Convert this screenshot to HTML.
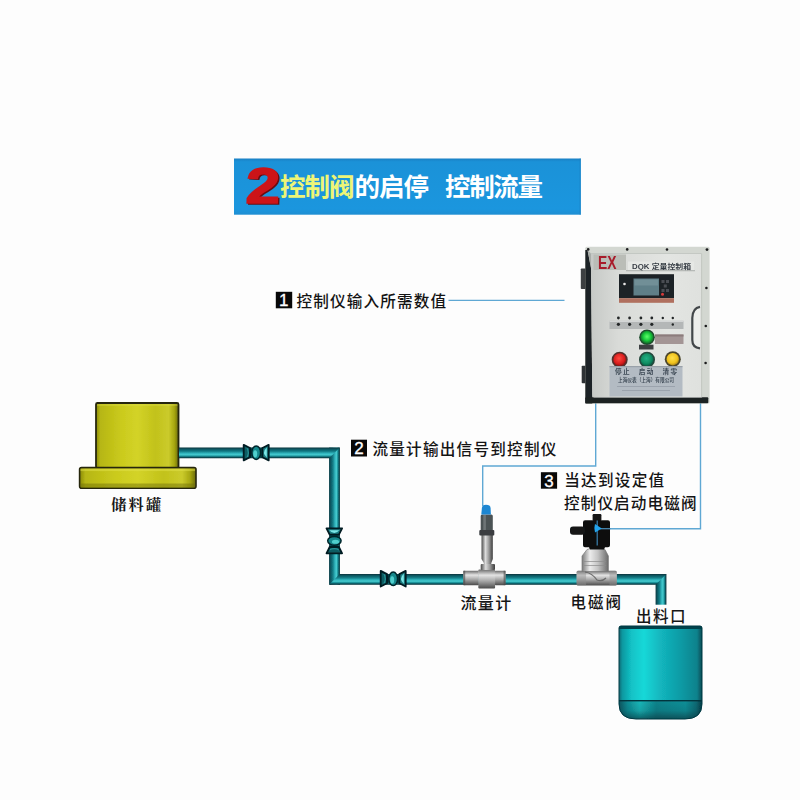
<!DOCTYPE html>
<html lang="zh-CN">
<head>
<meta charset="utf-8">
<title>控制阀的启停 控制流量</title>
<style>
html,body{margin:0;padding:0;background:#fdfdfd;}
body{width:800px;height:800px;overflow:hidden;position:relative;font-family:"Liberation Sans","Noto Sans CJK SC",sans-serif;}
svg{position:absolute;left:0;top:0;display:block;}
text{font-family:"Liberation Sans","Noto Sans CJK SC",sans-serif;}
</style>
</head>
<body>
<svg width="800" height="800" viewBox="0 0 800 800">
<defs>
  <linearGradient id="pipeH" x1="0" y1="0" x2="0" y2="1">
    <stop offset="0" stop-color="#05323a"/>
    <stop offset="0.12" stop-color="#0a525c"/>
    <stop offset="0.35" stop-color="#137c86"/>
    <stop offset="0.55" stop-color="#32b6be"/>
    <stop offset="0.68" stop-color="#46cace"/>
    <stop offset="0.8" stop-color="#1c929a"/>
    <stop offset="0.92" stop-color="#0a4c56"/>
    <stop offset="1" stop-color="#042a32"/>
  </linearGradient>
  <linearGradient id="pipeV" x1="0" y1="0" x2="1" y2="0">
    <stop offset="0" stop-color="#05323a"/>
    <stop offset="0.12" stop-color="#0a525c"/>
    <stop offset="0.35" stop-color="#137c86"/>
    <stop offset="0.55" stop-color="#32b6be"/>
    <stop offset="0.68" stop-color="#46cace"/>
    <stop offset="0.8" stop-color="#1c929a"/>
    <stop offset="0.92" stop-color="#0a4c56"/>
    <stop offset="1" stop-color="#042a32"/>
  </linearGradient>
  <linearGradient id="tankY" x1="0" y1="0" x2="1" y2="0">
    <stop offset="0" stop-color="#8a8a0c"/>
    <stop offset="0.05" stop-color="#b6b614"/>
    <stop offset="0.3" stop-color="#caca1c"/>
    <stop offset="0.5" stop-color="#d3d328"/>
    <stop offset="0.72" stop-color="#c2c21a"/>
    <stop offset="0.88" stop-color="#cbcb2c"/>
    <stop offset="0.95" stop-color="#a6a610"/>
    <stop offset="1" stop-color="#6a6a08"/>
  </linearGradient>
  <linearGradient id="tankG" x1="0" y1="0" x2="1" y2="0">
    <stop offset="0" stop-color="#0a6a74"/>
    <stop offset="0.04" stop-color="#0e98a0"/>
    <stop offset="0.15" stop-color="#12c2c6"/>
    <stop offset="0.3" stop-color="#14d8d8"/>
    <stop offset="0.5" stop-color="#12b6be"/>
    <stop offset="0.75" stop-color="#0f9aa4"/>
    <stop offset="0.94" stop-color="#0c828c"/>
    <stop offset="1" stop-color="#064a54"/>
  </linearGradient>
  <linearGradient id="tankGb" x1="0" y1="0" x2="1" y2="0">
    <stop offset="0" stop-color="#08545e"/>
    <stop offset="0.1" stop-color="#0e8a92"/>
    <stop offset="0.25" stop-color="#1ab8ba"/>
    <stop offset="0.45" stop-color="#0e848c"/>
    <stop offset="0.8" stop-color="#109098"/>
    <stop offset="0.93" stop-color="#0b6a74"/>
    <stop offset="1" stop-color="#053c46"/>
  </linearGradient>
  <linearGradient id="steelH" x1="0" y1="0" x2="0" y2="1">
    <stop offset="0" stop-color="#6a6a6a"/>
    <stop offset="0.3" stop-color="#e4e4e4"/>
    <stop offset="0.6" stop-color="#a8a8a8"/>
    <stop offset="1" stop-color="#4a4a4a"/>
  </linearGradient>
  <linearGradient id="steelV" x1="0" y1="0" x2="1" y2="0">
    <stop offset="0" stop-color="#4a4a4a"/>
    <stop offset="0.35" stop-color="#dcdcdc"/>
    <stop offset="0.65" stop-color="#9a9a9a"/>
    <stop offset="1" stop-color="#3c3c3c"/>
  </linearGradient>
  <linearGradient id="steelL" x1="0" y1="0" x2="1" y2="0">
    <stop offset="0" stop-color="#7a7a7a"/>
    <stop offset="0.3" stop-color="#ececec"/>
    <stop offset="0.6" stop-color="#c4c4c4"/>
    <stop offset="1" stop-color="#6a6a6a"/>
  </linearGradient>
  <linearGradient id="banner" x1="0" y1="0" x2="0" y2="1">
    <stop offset="0" stop-color="#1a80c4"/>
    <stop offset="0.06" stop-color="#1b92d8"/>
    <stop offset="0.9" stop-color="#1b96de"/>
    <stop offset="1" stop-color="#1f8ed2"/>
  </linearGradient>
  <linearGradient id="darkDown" x1="0" y1="0" x2="0" y2="1">
    <stop offset="0" stop-color="#03323a" stop-opacity="0"/>
    <stop offset="0.55" stop-color="#03323a" stop-opacity="0.150"/>
    <stop offset="1" stop-color="#03323a" stop-opacity="0.650"/>
  </linearGradient>
  <radialGradient id="lampG" cx="0.5" cy="0.45" r="0.55">
    <stop offset="0" stop-color="#5cff6a"/>
    <stop offset="0.55" stop-color="#18c83a"/>
    <stop offset="1" stop-color="#155a28"/>
  </radialGradient>
  <filter id="soft" x="-5%" y="-5%" width="110%" height="110%"><feGaussianBlur stdDeviation="0.450"/></filter>
</defs>

<!-- banner -->
<g id="banner-g">
  <rect x="234" y="158.500" width="346.800" height="56.200" fill="url(#banner)"/>
  <rect x="579.600" y="158.500" width="1.200" height="56.200" fill="#1a82c6" opacity="0.700"/>
  <g transform="translate(245.300,203) skewX(-2) scale(1.230,1)">
    <text x="1.200" y="1" font-size="50" font-weight="700" fill="#6a0c10" stroke="#6a0c10" stroke-width="1.400" font-family="'Liberation Sans',sans-serif" >2</text>
    <text x="0" y="0" font-size="50" font-weight="700" fill="#cc1418" stroke="#cc1418" stroke-width="1.600" font-family="'Liberation Sans',sans-serif" >2</text>
  </g>
  <text x="280" y="196" font-size="25.500" font-weight="700" fill="#eef576" textLength="74.500" lengthAdjust="spacing">控制阀</text>
  <text x="354.500" y="196" font-size="25.500" font-weight="700" fill="#ffffff" textLength="74.500" lengthAdjust="spacing">的启停</text>
  <text x="445" y="196" font-size="25.500" font-weight="700" fill="#ffffff" textLength="98" lengthAdjust="spacing">控制流量</text>
</g>

<!-- signal lines -->
<g id="lines" fill="none" stroke="#5fa8d4" stroke-width="1.400">
  <path d="M448.500 300.400 H564.500"/>
  <path d="M595.700 403 V466 H482.700 V506"/>
  <path d="M700.500 403 V528.700 H600"/>
</g>

<!-- step labels -->
<g id="labels" fill="#141414" font-size="15.600" font-weight="500">
  <rect x="275.800" y="291.800" width="16.400" height="16.500" fill="#080808"/>
  <text x="283.700" y="306.200" font-size="17" font-weight="400" fill="#ffffff" stroke="#ffffff" stroke-width="0.300" text-anchor="middle" font-family="'Liberation Sans',sans-serif">1</text>
  <text x="296.600" y="307.200" textLength="149.500" lengthAdjust="spacing">控制仪输入所需数值</text>

  <rect x="351" y="439.700" width="16" height="16.800" fill="#080808"/>
  <text x="359" y="454.400" font-size="17" font-weight="400" fill="#ffffff" stroke="#ffffff" stroke-width="0.300" text-anchor="middle" font-family="'Liberation Sans',sans-serif">2</text>
  <text x="372.400" y="455" textLength="184" lengthAdjust="spacing">流量计输出信号到控制仪</text>

  <rect x="540.900" y="472.200" width="16.200" height="16.500" fill="#080808"/>
  <text x="549" y="486.600" font-size="17" font-weight="400" fill="#ffffff" stroke="#ffffff" stroke-width="0.300" text-anchor="middle" font-family="'Liberation Sans',sans-serif">3</text>
  <text x="564.200" y="485.800" textLength="100" lengthAdjust="spacing">当达到设定值</text>
  <text x="564" y="509.400" textLength="132.500" lengthAdjust="spacing">控制仪启动电磁阀</text>
</g>

<!-- component labels -->
<g id="names" fill="#161616" font-size="15.800" font-weight="500">
  <text x="111.300" y="510" font-size="15.200" font-weight="700" stroke="none" style="font-family:'Liberation Serif','Noto Serif CJK SC',serif" textLength="49.800" lengthAdjust="spacing">储料罐</text>
  <text x="460.400" y="608.600" font-size="16" textLength="50.800" lengthAdjust="spacing">流量计</text>
  <text x="570.600" y="608.200" font-size="15.500" textLength="50.500" lengthAdjust="spacing">电磁阀</text>
  <text x="636" y="622.200" font-size="15.500" textLength="49.500" lengthAdjust="spacing">出料口</text>
</g>

<!-- storage tank -->
<g id="storage" filter="url(#soft)">
  <rect x="96" y="403" width="82.500" height="65" rx="1.500" fill="url(#tankY)" stroke="#28280a" stroke-width="1.800"/>
  <rect x="97" y="404" width="80.500" height="2" fill="#e0e04a" opacity="0.350"/>
  <rect x="79.600" y="467.600" width="116.400" height="20.600" rx="2" fill="url(#tankY)" stroke="#28280a" stroke-width="1.600"/>
  <rect x="80.500" y="468.600" width="114.600" height="2.500" fill="#e2e24c" opacity="0.500"/>
  <rect x="80.500" y="483.500" width="114.600" height="4" fill="#6a6a08" opacity="0.450"/>
</g>

<!-- pipes -->
<g id="pipes" filter="url(#soft)">
  <rect x="329.100" y="447.600" width="10.800" height="137.100" fill="url(#pipeV)"/>
  <rect x="655.600" y="574" width="10.800" height="30.700" fill="url(#pipeV)"/>
  <path d="M179 447.600 H339.900 L329.100 458.200 H179 Z" fill="url(#pipeH)"/>
  <path d="M339.900 574 H666.400 L655.600 584.700 H329.100 Z" fill="url(#pipeH)"/>
</g>

<!-- hand valves -->
<g id="valves" filter="url(#soft)">
  <g transform="translate(256.200,452.600)">
    <rect x="-7" y="-4.200" width="14" height="8.400" fill="#0a4850"/>
    <path d="M-12.500 -7.800 L-6.200 -4.600 L-6.200 4.600 L-12.500 7.800 Z" fill="#0d5c62" stroke="#021a20" stroke-width="1.800" stroke-linejoin="round"/>
    <path d="M-9.800 -4.800 Q-7.200 0 -9.800 4.800 L-8.200 4.200 Q-6.400 0 -8.200 -4.200 Z" fill="#2a9a9c" opacity="0.900"/>
    <path d="M12.500 -7.800 L6.200 -4.600 L6.200 4.600 L12.500 7.800 Z" fill="#1a7c82" stroke="#021a20" stroke-width="1.800" stroke-linejoin="round"/>
    <path d="M10.600 -5 L10.600 5 Q5 0 10.600 -5 Z" fill="#7be6e6"/>
    <ellipse cx="0" cy="0.100" rx="4.400" ry="6.700" fill="#16888c" stroke="#02262c" stroke-width="1.500"/>
    <ellipse cx="-1" cy="1.200" rx="2" ry="3.600" fill="#5cdcd8" opacity="0.850"/>
  
  </g>
  <g transform="translate(334.300,540.800) rotate(-90)">
    <rect x="-7" y="-4.200" width="14" height="8.400" fill="#0a4850"/>
    <path d="M-12.500 -7.800 L-6.200 -4.600 L-6.200 4.600 L-12.500 7.800 Z" fill="#0d5c62" stroke="#021a20" stroke-width="1.800" stroke-linejoin="round"/>
    <path d="M-9.800 -4.800 Q-7.200 0 -9.800 4.800 L-8.200 4.200 Q-6.400 0 -8.200 -4.200 Z" fill="#2a9a9c" opacity="0.900"/>
    <path d="M12.500 -7.800 L6.200 -4.600 L6.200 4.600 L12.500 7.800 Z" fill="#1a7c82" stroke="#021a20" stroke-width="1.800" stroke-linejoin="round"/>
    <path d="M10.600 -5 L10.600 5 Q5 0 10.600 -5 Z" fill="#7be6e6"/>
    <ellipse cx="0" cy="0.100" rx="4.400" ry="6.700" fill="#16888c" stroke="#02262c" stroke-width="1.500"/>
    <ellipse cx="-1" cy="1.200" rx="2" ry="3.600" fill="#5cdcd8" opacity="0.850"/>
  
  </g>
  <g transform="translate(393.200,578.700)">
    <rect x="-7" y="-4.200" width="14" height="8.400" fill="#0a4850"/>
    <path d="M-12.500 -7.800 L-6.200 -4.600 L-6.200 4.600 L-12.500 7.800 Z" fill="#0d5c62" stroke="#021a20" stroke-width="1.800" stroke-linejoin="round"/>
    <path d="M-9.800 -4.800 Q-7.200 0 -9.800 4.800 L-8.200 4.200 Q-6.400 0 -8.200 -4.200 Z" fill="#2a9a9c" opacity="0.900"/>
    <path d="M12.500 -7.800 L6.200 -4.600 L6.200 4.600 L12.500 7.800 Z" fill="#1a7c82" stroke="#021a20" stroke-width="1.800" stroke-linejoin="round"/>
    <path d="M10.600 -5 L10.600 5 Q5 0 10.600 -5 Z" fill="#7be6e6"/>
    <ellipse cx="0" cy="0.100" rx="4.400" ry="6.700" fill="#16888c" stroke="#02262c" stroke-width="1.500"/>
    <ellipse cx="-1" cy="1.200" rx="2" ry="3.600" fill="#5cdcd8" opacity="0.850"/>
  
  </g>
</g>

<!-- flow meter -->
<g id="flowmeter" filter="url(#soft)">
  <rect x="463.200" y="570.700" width="15.600" height="14.500" rx="1" fill="url(#steelH)"/>
  <rect x="494.800" y="570.700" width="10.800" height="14.500" rx="1" fill="url(#steelH)"/>
  <rect x="478.300" y="569.400" width="16.800" height="19.200" rx="1" fill="url(#steelH)"/>
  <rect x="463.200" y="570.700" width="2" height="14.500" fill="#4a4a4a" opacity="0.600"/>
  <rect x="503.600" y="570.700" width="2" height="14.500" fill="#4a4a4a" opacity="0.600"/>
  <path d="M481.500 535 H492.800 V559 L491.300 563 V566 H483.800 V563 L481.500 559 Z" fill="url(#steelV)"/>
  <rect x="480.700" y="564" width="14.300" height="6" rx="1" fill="url(#steelV)"/>
  <rect x="480.700" y="514.500" width="12.100" height="17.500" rx="1.500" fill="#4c5254"/>
  <rect x="483.300" y="515" width="2.600" height="16.500" fill="#7d8486" opacity="0.700"/>
  <rect x="479.300" y="530" width="15" height="5.500" rx="1" fill="#3a3e40"/>
  <path d="M481.300 514.600 L481.900 508 Q482.200 504.800 486 504.800 Q490.300 504.800 490.600 508 L490.900 514.600 Z" fill="#1c86d2"/>
</g>

<!-- solenoid valve -->
<g id="solenoid" filter="url(#soft)">
  <rect x="576.600" y="570.800" width="40.200" height="14.800" rx="1.500" fill="url(#steelH)"/>
  <rect x="576.600" y="570.800" width="9.500" height="14.800" rx="1" fill="#8e8e8e" opacity="0.450"/>
  <rect x="609.500" y="570.800" width="7.300" height="14.800" rx="1" fill="#8e8e8e" opacity="0.450"/>
  <path d="M587 549.500 Q596 546 605 549.500 L608.400 556 V571.500 H582 V556 Z" fill="url(#steelL)" stroke="#7a7a7a" stroke-width="0.700"/>
  <path d="M585 572 Q592 573 597 580 Q602 582 606 578" fill="none" stroke="#5a5a5a" stroke-width="1.200" opacity="0.800"/>
  <rect x="584" y="561" width="22" height="1" fill="#8a8a8a" opacity="0.700"/>
  <rect x="584" y="565" width="22" height="1" fill="#8a8a8a" opacity="0.700"/>
  <rect x="592.600" y="514" width="8.800" height="7" rx="1.200" fill="#121314"/>
  <path d="M585 520.200 H608 Q610 520.200 610 522.200 V545.200 Q610 547.200 608 547.200 H605 L604 549.500 H590 L589 547.200 H585 Q583 547.200 583 545.200 V522.200 Q583 520.200 585 520.200 Z" fill="#0d0f10"/>
  <rect x="570" y="526.400" width="15" height="8.400" rx="3" fill="#121416"/>
  <rect x="596.600" y="520.500" width="1.200" height="25" fill="#3a7fae"/>
  <rect x="600" y="528.100" width="10.500" height="1.200" fill="#4f8fb8"/>
  <path d="M595 524 L601.800 528.400 L595 532.600 Q593.600 528.400 595 524 Z" fill="#22a4ee"/>
</g>

<!-- receiving tank -->
<g id="receiver" filter="url(#soft)">
  <path d="M621 626 H700 Q702 626 702 628 V701 H619 V628 Q619 626 621 626 Z" fill="url(#tankG)"/>
  <path d="M619 700.500 H702 V704 Q702 719 685 719 H636 Q619 719 619 704 Z" fill="url(#tankGb)"/>
  <path d="M619 700.500 H702 V704 Q702 719 685 719 H636 Q619 719 619 704 Z" fill="url(#darkDown)"/>
  <path d="M621 626 H700 Q702 626 702 628 V629 H619 V628 Q619 626 621 626 Z" fill="#06424c"/>
  <rect x="619" y="700" width="83" height="1.400" fill="#05343e"/>
  <path d="M621 626 H700 Q702 626 702 628 V704 Q702 719 685 719 H636 Q619 719 619 704 V628 Q619 626 621 626 Z" fill="none" stroke="#053842" stroke-width="1"/>
</g>

<!-- control box -->
<defs>
  <linearGradient id="panelG" x1="0" y1="0" x2="1" y2="0">
    <stop offset="0" stop-color="#c6c9c6"/>
    <stop offset="0.25" stop-color="#d9dbd8"/>
    <stop offset="0.7" stop-color="#e3e5e2"/>
    <stop offset="1" stop-color="#dfe1de"/>
  </linearGradient>
  <radialGradient id="btnR" cx="0.45" cy="0.4" r="0.6"><stop offset="0" stop-color="#ff4a40"/><stop offset="0.7" stop-color="#d81c1c"/><stop offset="1" stop-color="#8a1414"/></radialGradient>
  <radialGradient id="btnG" cx="0.45" cy="0.4" r="0.6"><stop offset="0" stop-color="#22b084"/><stop offset="0.7" stop-color="#108a60"/><stop offset="1" stop-color="#0c5a44"/></radialGradient>
  <radialGradient id="btnY" cx="0.45" cy="0.4" r="0.6"><stop offset="0" stop-color="#ffe04a"/><stop offset="0.7" stop-color="#f0c21c"/><stop offset="1" stop-color="#a8841a"/></radialGradient>
</defs>
<g id="ctrlbox" filter="url(#soft)">
  <rect x="580.800" y="268.500" width="5.200" height="20.500" rx="0.800" fill="#3c4042"/>
  <rect x="581.700" y="365.800" width="4.600" height="17.500" rx="0.800" fill="#2e3234"/>
  <rect x="585.300" y="246.800" width="124.300" height="156.700" rx="1.500" fill="#d3d7d1"/>
  <path d="M585.300 250 L587.500 250 L591 268 L592.300 396 V403.500 H585.300 Z" fill="#1f2325"/>
  <rect x="585.300" y="397.200" width="123" height="6" rx="1" fill="#1d2123"/>
  <path d="M591 253.500 H701.500 V397.500 H594.300 Q592.300 397.500 592.300 395.500 L591 268 Z" fill="url(#panelG)"/>
  <path d="M587.500 250 L591 253.500 V268 Z" fill="#a9ada9"/>
  <rect x="701.300" y="253.500" width="0.800" height="144" fill="#bcc0bb"/>
  <rect x="591" y="253" width="110.500" height="0.800" fill="#bfc3be"/>
  <!-- EX plate -->
  <rect x="593.500" y="254.500" width="32.500" height="15.500" fill="#babdb7"/>
  <text x="598" y="268.600" font-size="17.500" font-weight="700" fill="#a81c2c" font-family="'Liberation Sans',sans-serif" textLength="18.500" lengthAdjust="spacingAndGlyphs">EX</text>
  <rect x="628" y="261.500" width="66" height="8.800" fill="#e6e8e5"/>
  <text x="632" y="268.600" font-size="6.800" font-weight="700" fill="#363c44" textLength="59" lengthAdjust="spacingAndGlyphs">DQK 定量控制箱</text>
  <rect x="626" y="270.300" width="69" height="0.900" fill="#a4a8a6"/>
  <!-- display -->
  <rect x="619" y="274.200" width="55" height="24" fill="#1f2327"/>
  <rect x="633.500" y="278.500" width="25.500" height="17" fill="#5f7f88"/>
  <rect x="634.500" y="279.500" width="23.500" height="6" fill="#7d99a2" opacity="0.600"/>
  <circle cx="624.500" cy="284" r="1.300" fill="#e8e8e8"/>
  <g fill="#4a4e52"><rect x="661.500" y="280" width="3" height="3"/><rect x="666" y="280" width="3" height="3"/><rect x="663.800" y="284.500" width="3" height="3"/><rect x="661.500" y="289" width="3" height="3"/><rect x="666" y="289" width="3" height="3"/></g>
  <circle cx="662.500" cy="294.200" r="1.500" fill="#d63a3a"/>
  <rect x="619" y="298.200" width="55" height="4.600" fill="#b0705e"/>
  <!-- handle -->
  <path d="M700 306.800 Q692.500 308 692.300 318 V340 Q692.300 347.500 700 348.400" fill="#eceeeb" stroke="#43474a" stroke-width="2.200"/>
  <!-- terminal strip -->
  <rect x="609.500" y="320.800" width="74" height="8.200" fill="#b4b7b7"/>
  <rect x="609.500" y="320.800" width="74" height="1.200" fill="#d4d6d6"/>
  <g fill="#232527">
    <circle cx="618.400" cy="318" r="1.400"/><circle cx="629.600" cy="318" r="1.400"/><circle cx="640.900" cy="318" r="1.400"/><circle cx="651.800" cy="318" r="1.400"/><circle cx="662.800" cy="318" r="1.200"/><circle cx="672.800" cy="318" r="1.200"/>
    <circle cx="618.400" cy="324.300" r="1.600"/><circle cx="629.600" cy="324.300" r="1.600"/><circle cx="640.900" cy="324.300" r="1.600"/><circle cx="651.800" cy="324.300" r="1.600"/><circle cx="672.800" cy="324.500" r="1.200"/>
  </g>
  <!-- lamp and strip -->
  <rect x="655" y="334.500" width="28.500" height="9.500" fill="#a39595"/>
  <rect x="655" y="334.500" width="28.500" height="2" fill="#8c7c7c"/>
  <circle cx="647" cy="337.300" r="7.800" fill="#1d4a2c"/>
  <circle cx="647" cy="337.300" r="6.600" fill="url(#lampG)"/>
  <rect x="639" y="344.700" width="14.500" height="4.800" fill="#3c4042"/>
  <!-- buttons -->
  <circle cx="619.700" cy="359.700" r="8" fill="#51302e"/>
  <circle cx="619.700" cy="359.700" r="6.400" fill="url(#btnR)"/>
  <circle cx="647" cy="359.700" r="8" fill="#24493e"/>
  <circle cx="647" cy="359.700" r="6.400" fill="url(#btnG)"/>
  <circle cx="672.800" cy="359.200" r="8" fill="#4c462c"/>
  <circle cx="672.800" cy="359.200" r="6.200" fill="url(#btnY)"/>
  <!-- name plate -->
  <rect x="609.500" y="366" width="73" height="30.500" fill="#b3bbc3"/>
  <rect x="609.500" y="366" width="73" height="1.200" fill="#8e969e" opacity="0.700"/>
  <text x="646" y="374" font-size="6.600" font-weight="700" fill="#3f4b57" text-anchor="middle" textLength="62" lengthAdjust="spacing">停止　启动　清零</text>
  <text x="646" y="382.300" font-size="5.200" font-weight="700" fill="#44505c" text-anchor="middle" textLength="56" lengthAdjust="spacingAndGlyphs">上海仪表（上海）有限公司</text>
  <rect x="617" y="386" width="58" height="0.800" fill="#87919b" opacity="0.700"/>
  <rect x="622" y="390" width="48" height="0.800" fill="#87919b" opacity="0.700"/>
  <!-- screws -->
  <g fill="#1a1c1e">
    <circle cx="588.200" cy="249.400" r="1.300"/><circle cx="627.200" cy="249.400" r="1.300"/><circle cx="667" cy="249.500" r="1.300"/><circle cx="707" cy="249.600" r="1.400"/>
    <circle cx="706.400" cy="288" r="1.300"/><circle cx="705.800" cy="326" r="1.300"/><circle cx="705.600" cy="363" r="1.300"/>
  </g>
</g>
</svg>
</body>
</html>
